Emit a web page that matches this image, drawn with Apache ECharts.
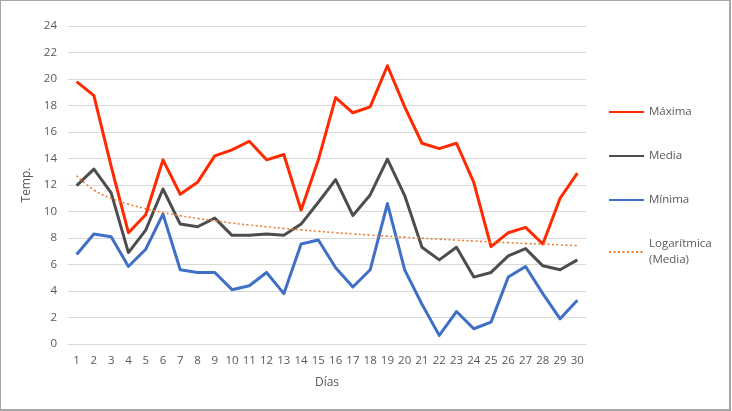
<!DOCTYPE html>
<html>
<head>
<meta charset="utf-8">
<script src="https://cdn.jsdelivr.net/npm/echarts@6/dist/echarts.min.js"></script>
<style>
html,body{margin:0;padding:0;background:#fff;}
#c{position:absolute;left:0;top:0;width:728px;height:408px;border:1px solid #a6a6a6;border-right-width:2px;border-bottom-width:2px;}
</style>
</head>
<body>
<div id="c"></div>
<script>
const days = ['1','2','3','4','5','6','7','8','9','10','11','12','13','14','15','16','17','18','19','20','21','22','23','24','25','26','27','28','29','30'];
const maxima = [19.8,18.75,13.4,8.4,9.75,13.9,11.3,12.2,14.2,14.65,15.3,13.9,14.3,10.1,13.9,18.6,17.45,17.9,21.0,17.9,15.15,14.75,15.15,12.2,7.35,8.4,8.8,7.55,11.0,12.9];
const media = [11.95,13.2,11.4,6.9,8.6,11.7,9.05,8.85,9.5,8.2,8.2,8.3,8.2,9.05,10.7,12.4,9.7,11.25,13.95,11.2,7.3,6.35,7.3,5.05,5.4,6.65,7.2,5.9,5.6,6.35];
const minima = [6.75,8.3,8.1,5.85,7.15,9.8,5.6,5.4,5.4,4.1,4.4,5.4,3.8,7.55,7.85,5.75,4.3,5.6,10.6,5.6,3.0,0.65,2.45,1.15,1.65,5.05,5.85,3.8,1.9,3.3];
const tendencia = [12.7,11.63,11.0,10.55,10.21,9.92,9.68,9.48,9.3,9.13,8.98,8.85,8.72,8.61,8.5,8.4,8.31,8.22,8.14,8.06,7.98,7.91,7.84,7.77,7.71,7.65,7.59,7.54,7.48,7.43];
const yTicks = {min:0, max:24, interval:2};

const chart = echarts.init(document.getElementById('c'), null, {renderer:'canvas'});
const txt = '#595959';
const font = 'Open Sans';
chart.setOption({
  animation:false,
  textStyle:{fontFamily:font},
  grid:{left:67, right:143, top:25, bottom:65},
  legend:{
    orient:'vertical', left:602, top:98, itemGap:28, itemWidth:35, itemHeight:14,
    itemStyle:{opacity:0},
    textStyle:{color:txt, fontSize:11.5, fontFamily:font, lineHeight:16},
    data:[
      {name:'Máxima'},
      {name:'Media'},
      {name:'Mínima'},
      {name:'Logarítmica\n(Media)'}
    ]
  },
  xAxis:{
    type:'category', data:days, boundaryGap:true,
    name:'Días', nameLocation:'middle', nameGap:33,
    nameTextStyle:{color:txt, fontSize:12, fontFamily:font},
    axisLine:{lineStyle:{color:'#d9d9d9', width:1}},
    axisTick:{show:false},
    axisLabel:{color:txt, fontSize:11.5, margin:11, interval:0, fontFamily:font}
  },
  yAxis:{
    type:'value', min:yTicks.min, max:yTicks.max, interval:yTicks.interval,
    name:'Temp.', nameLocation:'middle', nameGap:33, nameRotate:90,
    nameTextStyle:{color:txt, fontSize:12, fontFamily:font},
    axisLine:{show:false}, axisTick:{show:false},
    axisLabel:{color:txt, fontSize:11.5, margin:11, fontFamily:font},
    splitLine:{lineStyle:{color:'#d9d9d9', width:1}}
  },
  series:[
    {name:'Máxima', type:'line', data:maxima, symbol:'none', z:4,
     lineStyle:{color:'#ff2a00', width:3, join:'round'}, itemStyle:{color:'#ff2a00'}},
    {name:'Media', type:'line', data:media, symbol:'none', z:3,
     lineStyle:{color:'#4d4d4d', width:3, join:'round'}, itemStyle:{color:'#4d4d4d'}},
    {name:'Mínima', type:'line', data:minima, symbol:'none', z:2,
     lineStyle:{color:'#3f6fc6', width:3, join:'round'}, itemStyle:{color:'#3f6fc6'}},
    {name:'Logarítmica\n(Media)', type:'line', data:tendencia, symbol:'none', smooth:true, z:5,
     lineStyle:{color:'#ed7d31', width:1.6, type:[2,2.5]}, itemStyle:{color:'#ed7d31'}}
  ]
});
</script>
</body>
</html>
